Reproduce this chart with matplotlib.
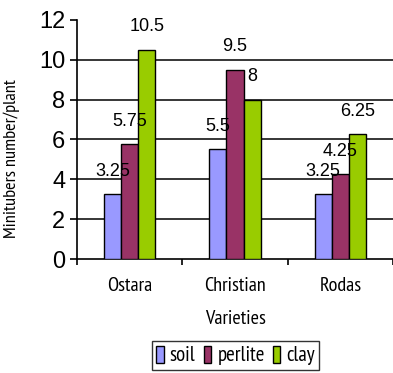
import numpy as np
import matplotlib.pyplot as plt

# minitubers per plant for each substrate
varieties = ['Ostara', 'Christian', 'Rodas']
substrates = ['soil', 'perlite', 'clay']
soil = [3.25, 5.5, 3.25]
perlite = [5.75, 9.5, 4.25]
clay = [10.5, 8, 6.25]
labels = ['3.25', '5.5', '3.25', '5.75', '9.5', '4.25', '10.5', '8', '6.25']
colors = ['#9999FF', '#993366', '#99CC00']

plt.rcParams['font.family'] = ['Liberation Sans', 'DejaVu Sans']
narrow = 'PT Sans Narrow'

fig = plt.figure(figsize=(3.93, 3.73), dpi=100)
ax = fig.add_axes([0.196, 0.3056, 0.804, 0.641])

x = np.arange(len(varieties))
w = 0.163
series = [soil, perlite, clay]
k = 0
for i, vals in enumerate(series):
    bars = ax.bar(x + (i - 1) * w, vals, w, color=colors[i], edgecolor='black',
                  linewidth=1.0, label=substrates[i], zorder=3)
    for b, v in zip(bars, vals):
        ax.text(b.get_x() + b.get_width() / 2, v + 0.72, labels[k], ha='center',
                va='bottom', fontsize=13, zorder=4)
        k += 1

ax.set_ylim(0, 12)
ax.set_xlim(-0.5, 2.5)
ax.set_yticks(range(0, 13, 2))
ax.tick_params(axis='y', labelsize=17, length=5, width=1.2, direction='out')
for yv in range(2, 12, 2):
    ax.axhline(yv, color='black', linewidth=1.1, zorder=1)

ax.set_xticks(x)
ax.set_xticklabels(varieties, family=narrow, fontsize=14.5)
ax.tick_params(axis='x', length=0, pad=13)
ax.set_xticks([-0.5, 0.5, 1.5, 2.5], minor=True)
ax.tick_params(axis='x', which='minor', length=4, width=1.2, direction='out')

for s in ['top', 'right']:
    ax.spines[s].set_visible(False)
for s in ['left', 'bottom']:
    ax.spines[s].set_linewidth(1.2)

ax.set_xlabel('Varieties', family=narrow, fontsize=14.5, labelpad=11)
ax.set_ylabel('Minitubers number/plant', family=narrow, fontsize=13.2)
ax.yaxis.set_label_coords(-0.18, 0.42)

leg = fig.legend(loc='center', bbox_to_anchor=(0.6, 0.047), ncol=3, frameon=True,
                 fancybox=False, edgecolor='black', handlelength=0.35, handleheight=0.9,
                 handletextpad=0.3, columnspacing=0.4, borderpad=0.2,
                 prop={'family': narrow, 'size': 15})
leg.get_frame().set_linewidth(1.0)

fig.savefig('out.png', dpi=100)
